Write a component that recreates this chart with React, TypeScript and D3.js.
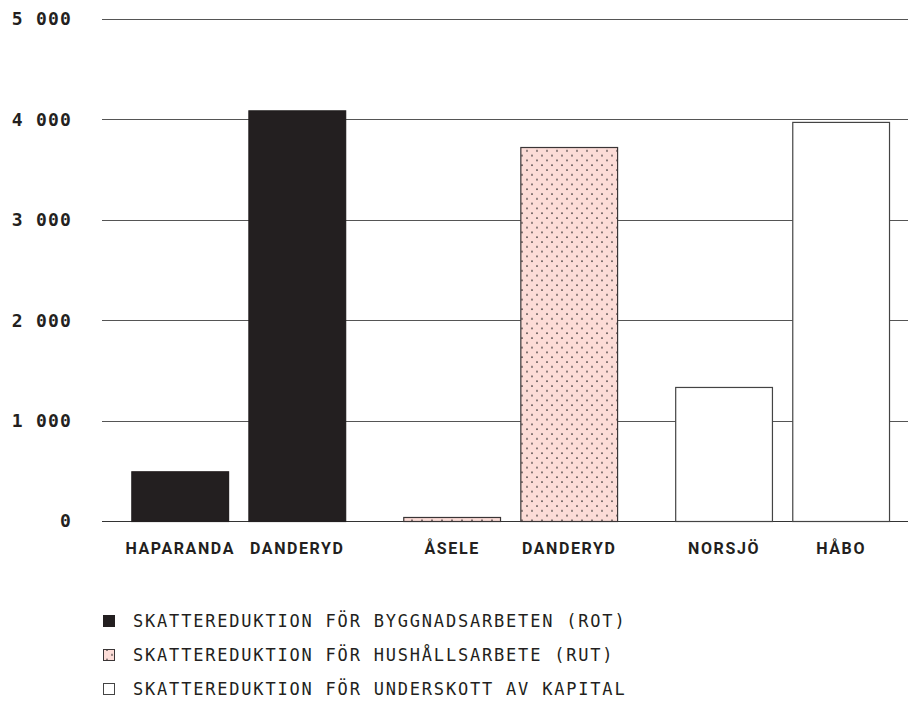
import React, { useEffect, useRef } from 'react';
import * as d3 from 'd3';

const groups = ['ROT', 'RUT', 'KAPITAL'];
const municipalities = [
  ['HAPARANDA', 'DANDERYD'],
  ['ÅSELE', 'DANDERYD'],
  ['NORSJÖ', 'HÅBO'],
];
const values = [
  [495, 4090],
  [40, 3725],
  [1335, 3975],
];
const legendLabels = [
  'SKATTEREDUKTION FÖR BYGGNADSARBETEN (ROT)',
  'SKATTEREDUKTION FÖR HUSHÅLLSARBETE (RUT)',
  'SKATTEREDUKTION FÖR UNDERSKOTT AV KAPITAL',
];
const yTicks = [0, 1000, 2000, 3000, 4000, 5000];

const W = 908;
const H = 706;
const MONO = '"DejaVu Sans Mono", "Liberation Mono", monospace';

const App: React.FC = () => {
  const ref = useRef<SVGSVGElement>(null);

  useEffect(() => {
    if (!ref.current) return;
    const svg = d3.select(ref.current);
    svg.selectAll('*').remove();

    const defs = svg.append('defs');
    const pat = defs.append('pattern')
      .attr('id', 'dots')
      .attr('patternUnits', 'userSpaceOnUse')
      .attr('width', 10)
      .attr('height', 9.6);
    pat.append('rect').attr('width', 10).attr('height', 9.6).attr('fill', '#fcdcd7');
    pat.append('circle').attr('cx', 2).attr('cy', 2).attr('r', 0.85).attr('fill', '#2e2a2b');
    pat.append('circle').attr('cx', 7).attr('cy', 6.8).attr('r', 0.85).attr('fill', '#2e2a2b');

    const fills = ['#231f20', 'url(#dots)', '#ffffff'];
    const strokes = ['#231f20', '#3a3536', '#444'];

    const fmt = d3.formatLocale({ decimal: ',', thousands: ' ', grouping: [3], currency: ['', ''] }).format(',');

    const y = d3.scaleLinear().domain([0, 5000]).range([521, 19]);
    const x0 = d3.scaleBand<string>().domain(groups).range([102, 908])
      .paddingInner(0.21).paddingOuter(0.087).align(0.62);
    const x1 = d3.scaleBand<number>().domain([0, 1]).range([0, x0.bandwidth()]).paddingInner(0.165);

    // grid + y labels
    const grid = svg.append('g');
    yTicks.forEach(t => {
      grid.append('line')
        .attr('x1', 102).attr('x2', W)
        .attr('y1', Math.round(y(t)) + 0.5).attr('y2', Math.round(y(t)) + 0.5)
        .attr('stroke', t === 0 ? '#333' : '#555').attr('stroke-width', 1);
      grid.append('text')
        .attr('x', 72).attr('y', y(t)).attr('dy', '0.36em')
        .attr('text-anchor', 'end')
        .style('font-family', MONO).style('font-weight', 'bold').style('font-size', '18px')
        .style('letter-spacing', '1.2px')
        .attr('fill', '#231f20')
        .text(fmt(t));
    });

    // bars
    groups.forEach((g, gi) => {
      const gx = x0(g)!;
      values[gi].forEach((v, i) => {
        const bx = gx + x1(i)!;
        svg.append('rect')
          .attr('x', bx + 0.5).attr('y', y(v) + 0.5)
          .attr('width', x1.bandwidth() - 1).attr('height', y(0) - y(v))
          .attr('fill', fills[gi]).attr('stroke', strokes[gi]).attr('stroke-width', 1.2);
        svg.append('text')
          .attr('x', bx + x1.bandwidth() / 2).attr('y', 553.5)
          .attr('text-anchor', 'middle')
          .style('font-family', 'Roboto, "DejaVu Sans", sans-serif').style('font-weight', 'bold').style('font-size', '16px')
          .style('letter-spacing', '1.6px')
          .attr('fill', '#231f20')
          .text(municipalities[gi][i]);
      });
    });

    // legend
    legendLabels.forEach((l, i) => {
      const ly = 621 + i * 34;
      svg.append('rect')
        .attr('x', 103.5).attr('y', ly - 5.5).attr('width', 11).attr('height', 11)
        .attr('fill', fills[i]).attr('stroke', strokes[i]).attr('stroke-width', 1);
      svg.append('text')
        .attr('x', 133).attr('y', ly).attr('dy', '0.36em')
        .style('font-family', MONO).style('font-size', '17px')
        .style('letter-spacing', '1.8px')
        .attr('fill', '#231f20')
        .text(l);
    });
  }, []);

  return (
    <svg
      ref={ref}
      width={W}
      height={H}
      viewBox={`0 0 ${W} ${H}`}
      style={{ position: 'absolute', left: 0, top: 0, background: '#fff' }}
    />
  );
};

export default App;
